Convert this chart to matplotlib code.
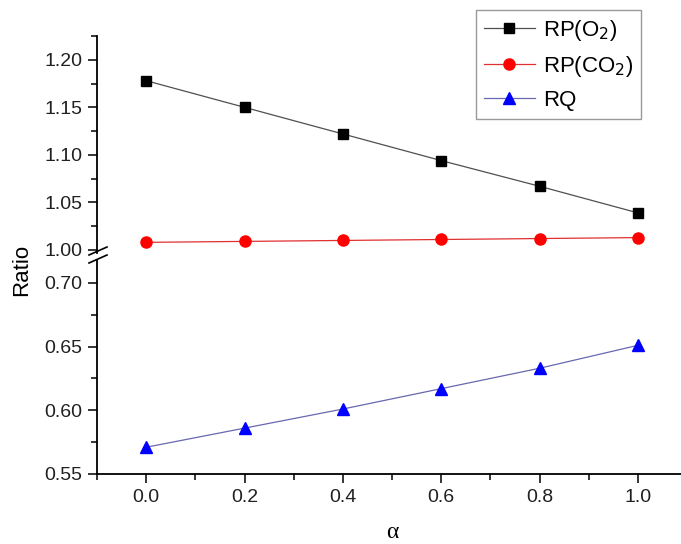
import numpy as np
import matplotlib
matplotlib.use("Agg")
import matplotlib.pyplot as plt
from matplotlib.lines import Line2D

plt.rcParams['font.family'] = ['Liberation Sans', 'DejaVu Sans']

alpha = [0.0, 0.2, 0.4, 0.6, 0.8, 1.0]
rp_o2 = [1.178, 1.150, 1.122, 1.094, 1.067, 1.039]
rp_co2 = [1.008, 1.009, 1.010, 1.011, 1.012, 1.013]
rq = [0.571, 0.586, 0.601, 0.617, 0.633, 0.651]

W, H = 681, 544
fig = plt.figure(figsize=(W / 100, H / 100), dpi=100)

left = 97 / W
width = 590 / W
ax_top = fig.add_axes([left, 1 - 253 / H, width, (253 - 36) / H])
ax_bot = fig.add_axes([left, 1 - 474 / H, width, (474 - 260) / H])

for ax in (ax_top, ax_bot):
    ax.set_xlim(-0.1, 1.1)
    for s in ('top', 'right'):
        ax.spines[s].set_visible(False)
    ax.spines['left'].set_linewidth(1.3)
    ax.spines['bottom'].set_linewidth(1.3)
    ax.tick_params(which='major', direction='out', length=6.5, width=1.1,
                   labelsize=14, pad=4, labelcolor='#202020')
    ax.tick_params(which='minor', direction='out', length=4, width=1.1)

kw = dict(lw=0.9, clip_on=False)
l1, = ax_top.plot(alpha, rp_o2, color='#505050', marker='s', ms=6.5,
                  mfc='black', mec='black', label='RP(O$_2$)', **kw)
l2, = ax_top.plot(alpha, rp_co2, color='#e03030', marker='o', ms=8,
                  mfc='red', mec='red', label='RP(CO$_2$)', **kw)
l3, = ax_bot.plot(alpha, rq, color='#6868b0', marker='^', ms=8.5,
                  mfc='blue', mec='blue', label='RQ', **kw)

ax_top.set_ylim(0.9968, 1.225)
ax_top.set_yticks([1.00, 1.05, 1.10, 1.15, 1.20])
ax_top.set_yticks([1.025, 1.075, 1.125, 1.175, 1.225], minor=True)
ax_top.set_yticklabels(['1.00', '1.05', '1.10', '1.15', '1.20'])
ax_top.spines['bottom'].set_visible(False)
ax_top.tick_params(axis='x', which='both', bottom=False, labelbottom=False)

ax_bot.set_ylim(0.55, 0.718)
ax_bot.set_yticks([0.55, 0.60, 0.65, 0.70])
ax_bot.set_yticks([0.575, 0.625, 0.675], minor=True)
ax_bot.set_yticklabels(['0.55', '0.60', '0.65', '0.70'])
ax_bot.set_xticks([0.0, 0.2, 0.4, 0.6, 0.8, 1.0])
ax_bot.set_xticks([-0.1, 0.1, 0.3, 0.5, 0.7, 0.9, 1.1], minor=True)
ax_bot.set_xticklabels(['0.0', '0.2', '0.4', '0.6', '0.8', '1.0'])

# axis break marks
for y0 in (255, 263):
    fig.add_artist(Line2D([89 / W, 107 / W], [1 - y0 / H, 1 - (y0 - 8) / H],
                          color='black', lw=1.2))

fig.text(22 / W, 1 - 270 / H, 'Ratio', rotation=90, ha='center', va='center',
         fontsize=16)
fig.text(392 / W, 1 - 532 / H, 'α', ha='center', va='center', fontsize=17,
         family=['Liberation Serif', 'DejaVu Serif'])

leg = fig.legend(handles=[l1, l2, l3], loc='upper left',
                 bbox_to_anchor=(476 / W, 1 - 10 / H), fontsize=16,
                 frameon=True, fancybox=False, handlelength=2.3,
                 handletextpad=0.35, labelspacing=0.5, borderpad=0.35,
                 borderaxespad=0)
leg.get_frame().set_edgecolor('#808080')
leg.get_frame().set_linewidth(1.0)

fig.savefig('out.png', dpi=100)
